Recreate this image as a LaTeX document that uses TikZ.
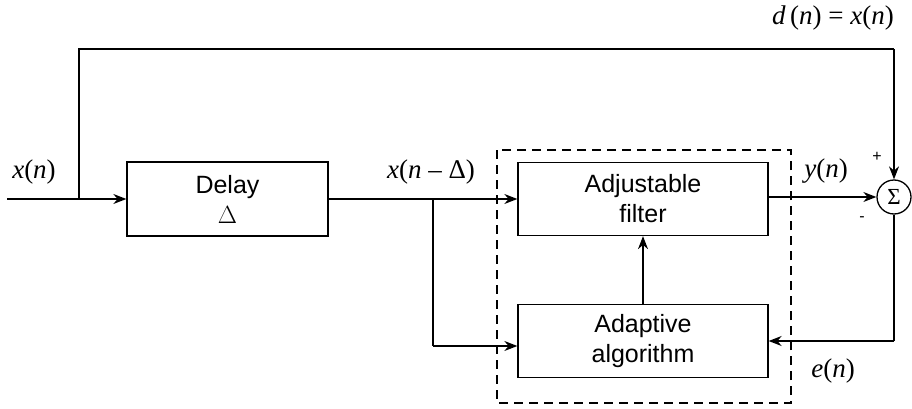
\documentclass[tikz,border=0pt]{standalone}
\usepackage{fontspec}
\setsansfont{Liberation Sans}
\newfontfamily\serfont{Liberation Serif}
\newcommand{\iv}[1]{\textit{#1}}
\usetikzlibrary{arrows.meta}
\begin{document}
\begin{tikzpicture}[x=1pt,y=-1pt,
  blk/.style={draw,line width=1.3pt,minimum width=#1,inner sep=0pt,font=\sffamily\fontsize{25}{30}\selectfont,align=center},
  ln/.style={line width=1.3pt},
  arr/.style={ln,-{Stealth[length=13pt,width=10pt]}},
  lab/.style={font=\serfont\fontsize{27}{30}\selectfont,inner sep=0pt},
  sgn/.style={font=\sffamily\fontsize{16}{18}\selectfont,inner sep=0pt}]
\useasboundingbox (0,0) rectangle (912,409);
\node[blk=201pt,minimum height=74pt] (delay) at (227.5,199) {Delay\\$\Delta$};
\node[blk=250pt,minimum height=73pt] (filt) at (643,199) {Adjustable\\filter};
\node[blk=250pt,minimum height=73pt] (alg) at (643,341) {Adaptive\\algorithm};
\node[draw,circle,line width=1.3pt,minimum size=34pt,inner sep=0pt,font=\serfont\fontsize{23}{24}\selectfont] (sum) at (894,197) {Σ};
\draw[line width=1.3pt,dash pattern=on 9pt off 6pt] (497,150) rectangle (791,403);
\coordinate (in) at (7,199);
\coordinate (br1) at (79,199);
\coordinate (tl) at (79,49);
\coordinate (tr) at (sum.north |- tl);
\coordinate (br2) at (433,199);
\coordinate (bd) at (433,346);
\coordinate (er) at (sum.south |- 0,341);
\draw[ln] (in) -- (br1);
\draw[arr] (br1) -- (delay.west);
\draw[ln] (br1) -- (tl) -- (tr);
\draw[arr] (tr) -- (sum.north);
\draw[arr] (delay.east) -- (filt.west);
\draw[ln] (br2) -- (bd);
\draw[arr] (bd) -- (alg.west |- bd);
\draw[arr] (filt.east |- sum.west) -- (sum.west);
\draw[ln] (sum.south) -- (er);
\draw[arr] (er) -- (alg.east |- er);
\draw[arr] (alg.north) -- (filt.south);
\node[lab] (dl) at (833,18) {\iv{d}\,(\iv{n}) = \iv{x}(\iv{n})};
\node[lab] (xl) at (34,172) {\iv{x}(\iv{n})};
\node[lab] (xdl) at (431,172) {\iv{x}(\iv{n} – Δ)};
\node[lab] (yl) at (826,171) {\iv{y}(\iv{n})};
\node[lab] (el) at (833,371) {\iv{e}(\iv{n})};
\node[sgn] (pl) at (877,157) {+};
\node[sgn] (ml) at (862,219) {-};
\end{tikzpicture}
\end{document}
